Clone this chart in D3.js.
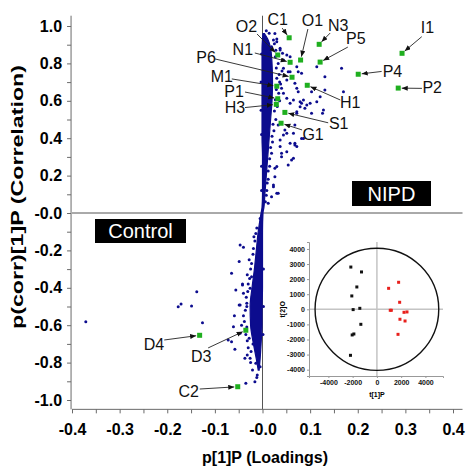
<!DOCTYPE html>
<html>
<head>
<meta charset="utf-8">
<script src="https://cdn.jsdelivr.net/npm/d3@7"></script>
<style>
body { margin: 0; background: #fff; }
#container { width: 466px; height: 473px; }
text { font-family: Arial, "Liberation Sans", sans-serif; }
</style>
</head>
<body>
<div id="container"></div>
<script>

var width = 466, height = 473;

// tick labels (the chart prints "-0.0" at zero)
var xTicks = [-0.4, -0.3, -0.2, -0.1, 0, 0.1, 0.2, 0.3, 0.4];
var xTickLabels = ['-0.4', '-0.3', '-0.2', '-0.1', '-0.0', '0.1', '0.2', '0.3', '0.4'];
var yTicks = [-1.0, -0.8, -0.6, -0.4, -0.2, 0, 0.2, 0.4, 0.6, 0.8, 1.0];
var yTickLabels = ['-1.0', '-0.8', '-0.6', '-0.4', '-0.2', '-0.0', '0.2', '0.4', '0.6', '0.8', '1.0'];

// labelled variables (green squares)
var markerNames = ['C1', 'O1', 'N3', 'P5', 'I1', 'O2', 'N1', 'P6', 'P4', 'P2', 'H1', 'M1', 'P1', 'H3', 'S1', 'G1', 'D4', 'D3', 'C2'];
var markerX = [0.056, 0.080, 0.119, 0.121, 0.293, 0.032, 0.058, 0.062, 0.201, 0.285, 0.094, 0.030, 0.032, 0.029, 0.047, 0.039, -0.132, -0.035, -0.052];
var markerY = [0.937, 0.818, 0.902, 0.807, 0.854, 0.845, 0.806, 0.726, 0.742, 0.668, 0.683, 0.678, 0.611, 0.581, 0.538, 0.480, -0.654, -0.627, -0.929];

// dense core of the S-plot: left / right edge of the band of loadings
var bandY     = [0.96, 0.93, 0.88, 0.80, 0.70, 0.60, 0.50, 0.40, 0.30, 0.20, 0.10, 0.03, 0.00, -0.10, -0.20, -0.30, -0.40, -0.50, -0.60, -0.70, -0.78, -0.84];
var bandLeft  = [0.001, 0.000, -0.001, -0.001, -0.001, -0.001, -0.001, -0.001, 0.000, 0.000, 0.000, -0.001, -0.003, -0.009, -0.013, -0.017, -0.022, -0.026, -0.025, -0.019, -0.013, -0.009];
var bandRight = [0.004, 0.011, 0.017, 0.020, 0.021, 0.020, 0.017, 0.014, 0.011, 0.008, 0.005, 0.003, 0.001, 0.000, 0.000, 0.000, 0.000, -0.001, -0.001, -0.003, -0.005, -0.007];

// individual loadings outside the dense core
var loadingPoints = [
  [0.023, 0.925], [0.019, 0.889], [0.037, 0.881], [0.042, 0.854], [0.051, 0.845], [0.044, 0.818],
  [0.072, 0.782], [0.044, 0.774], [0.054, 0.756], [0.082, 0.747], [0.131, 0.729], [0.166, 0.774],
  [0.051, 0.711], [0.068, 0.694], [0.040, 0.667], [0.075, 0.649], [0.114, 0.595], [0.082, 0.587],
  [0.093, 0.578], [0.089, 0.560], [0.058, 0.587], [0.051, 0.613], [0.128, 0.551], [0.072, 0.542],
  [0.121, 0.622], [0.170, 0.649], [0.131, 0.658], [0.126, 0.533], [0.014, 0.961], [0.030, 0.916],
  [0.037, 0.872], [0.058, 0.836], [0.075, 0.756], [0.058, 0.756], [0.114, 0.782], [0.072, 0.667],
  [0.086, 0.604], [0.079, 0.568], [0.100, 0.587], [0.103, 0.533], [0.065, 0.604], [0.068, 0.471],
  [0.051, 0.426], [0.068, 0.373], [0.037, 0.390], [0.082, 0.399], [0.065, 0.426], [0.044, 0.417],
  [0.058, 0.373], [0.037, 0.355], [0.051, 0.328], [0.065, 0.293], [0.061, 0.283], [0.054, 0.257],
  [0.040, 0.301], [0.030, 0.248], [0.026, 0.194], [0.023, 0.141], [0.019, 0.087], [0.030, 0.105],
  [0.079, 0.595], [0.072, 0.533], [0.033, 0.471], [0.047, 0.444], [0.086, 0.399], [0.068, 0.364],
  [0.040, 0.320], [0.026, 0.239], [0.033, 0.105], [0.012, 0.052], [0.023, 0.150], [0.103, 0.649],
  [0.072, 0.355], [0.030, 0.930], [0.028, 0.870], [0.033, 0.800], [0.035, 0.740], [0.036, 0.700],
  [0.034, 0.640], [0.031, 0.570], [0.028, 0.500], [0.024, 0.440], [0.021, 0.380], [0.019, 0.320],
  [0.015, 0.250], [0.012, 0.180], [0.009, 0.120], [0.006, 0.060], [0.026, 0.960], [0.008, 0.975],
  [0.025, 0.905], [0.027, 0.835], [0.029, 0.775], [0.030, 0.720], [0.029, 0.660], [0.027, 0.605],
  [0.025, 0.545], [0.022, 0.475], [0.020, 0.410], [0.017, 0.350], [0.015, 0.290], [0.012, 0.225],
  [0.010, 0.160], [0.008, 0.095], [0.041, 0.760], [0.038, 0.690], [0.044, 0.640], [0.036, 0.600],
  [-0.002, 0.850], [-0.003, 0.700], [-0.003, 0.550], [-0.002, 0.420], [-0.002, 0.250], [-0.002, 0.120],
  [-0.018, -0.127], [-0.047, -0.171], [-0.040, -0.183], [-0.049, -0.260], [-0.065, -0.322],
  [-0.042, -0.380], [-0.056, -0.412], [-0.040, -0.429], [-0.026, -0.403], [-0.023, -0.341],
  [-0.049, -0.492], [-0.033, -0.483], [-0.138, -0.421], [-0.171, -0.487], [-0.177, -0.501],
  [-0.149, -0.497], [-0.126, -0.587], [-0.047, -0.492], [-0.059, -0.549], [-0.072, -0.679],
  [-0.065, -0.688], [-0.058, -0.729], [-0.037, -0.777], [-0.035, -0.911], [-0.042, -0.385],
  [-0.061, -0.608], [-0.021, -0.840], [-0.011, -0.866], [-0.016, -0.902], [-0.371, -0.581],
  [-0.026, -0.777], [-0.032, -0.759], [-0.047, -0.643], [-0.032, -0.683], [-0.014, -0.804],
  [-0.009, -0.795], [-0.005, -0.822], [-0.005, -0.030], [-0.012, -0.080], [-0.016, -0.150],
  [-0.020, -0.220], [-0.025, -0.300], [-0.030, -0.380], [-0.034, -0.450], [-0.036, -0.520],
  [-0.038, -0.580], [-0.035, -0.650], [-0.030, -0.720], [-0.025, -0.800], [-0.028, -0.250],
  [-0.032, -0.330], [-0.040, -0.550], [-0.044, -0.600], [-0.020, -0.700], [-0.012, -0.880],
  [-0.014, -0.110], [-0.019, -0.190], [-0.023, -0.270], [-0.027, -0.350], [-0.031, -0.420],
  [-0.033, -0.500], [-0.033, -0.610], [-0.028, -0.670], [-0.024, -0.740], [-0.002, -0.100],
  [0.002, -0.300], [0.002, -0.500], [0.001, -0.650]
];

// inset: scores plot t[1]P vs t[2]O
var controlT1 = [-2150, -1270, -1655, -2070, -1960, -1410, -1325, -1900, -2040, -2180];
var controlT2 = [2800, 2475, 1480, 885, -20, 65, -995, -1635, -1700, -3050];
var nipdT1 = [1790, 965, 1875, 1100, 1190, 2235, 2480, 1900, 2320, 1740];
var nipdT2 = [1790, 1390, 465, -65, -65, -200, -175, -660, -775, -1660];
var insetXTicks = [-4000, -2000, 0, 2000, 4000];
var insetYTicks = [-4000, -3000, -2000, -1000, 0, 1000, 2000, 3000, 4000];
var ellipseR = [5100, 4050];

// label placement in pixels relative to each green square: [text dx, text dy, line start dx, line start dy]
var labelLayout = {
  C1: [-11.5, -12.7, -7, -9.7],   O1: [11.8, -34, 7.3, -31],     N3: [19, -13.3, 11, -11.3],
  P5: [35.7, -18, 27.7, -15],     I1: [25.5, -20, 19.7, -16.6],  O2: [-31.2, -23, -20.7, -21],
  N1: [-47.3, -7.3, -35.3, -9.3], P6: [-86, -13.8, -77, -18.3],  P4: [34.2, 2.7, 23.4, -2.8],
  P2: [34, 4.5, 23.7, 0.3],       H1: [43, 22.7, 33, 14.7],      M1: [-55, -4.3, -45, -7.3],
  P1: [-43.7, -1.7, -32.7, -6.7], H3: [-41.3, 8.2, -31.3, 3.2],  S1: [53.8, 16.2, 43.3, 10.4],
  G1: [32, 16.7, 21, 6.7],        D4: [-45.7, 14.7, -35.4, 4.7], D3: [-44.7, 31.7, -37.7, 17.7],
  C2: [-49, 10.3, -38, 2.3]
};

var svg = d3.select('#container')
  .append('svg')
  .attr('width', width)
  .attr('height', height);

var x = d3.scaleLinear().domain([-0.4, 0.4]).range([72, 453]);
var y = d3.scaleLinear().domain([-1, 1]).range([400, 26]);

var axisGrey = '#6a6a6a';
var navy = '#0c0c8e';

svg.append('defs').append('marker')
  .attr('id', 'arrow')
  .attr('markerUnits', 'userSpaceOnUse')
  .attr('markerWidth', 7)
  .attr('markerHeight', 6)
  .attr('refX', 6)
  .attr('refY', 2.5)
  .attr('orient', 'auto')
  .append('path')
  .attr('d', 'M0,0 L6,2.5 L0,5 Z')
  .style('fill', '#111');

// zero lines
svg.append('line')
  .attr('x1', x(0)).attr('x2', x(0))
  .attr('y1', y(1.055)).attr('y2', y(-1.05))
  .style('stroke', '#555').style('stroke-width', 1);
svg.append('line')
  .attr('x1', x(-0.4)).attr('x2', x(0.42))
  .attr('y1', y(0)).attr('y2', y(0))
  .style('stroke', '#555').style('stroke-width', 1);

// axes
var minorX = d3.range(-0.4, 0.4001, 0.05).map(function(d){ return Math.round(d * 100) / 100; });
var xAxis = d3.axisBottom(x)
  .tickValues(minorX)
  .tickSize(4)
  .tickPadding(10)
  .tickFormat(function(d){
    var i = xTicks.findIndex(function(t){ return Math.abs(t - d) < 1e-6; });
    return i >= 0 ? xTickLabels[i] : '';
  });
var gx = svg.append('g')
  .attr('transform', 'translate(0,' + y(-1.05) + ')')
  .call(xAxis);
gx.select('.domain').attr('d', 'M' + x(-0.4) + ',0H' + x(0.42));

var minorY = d3.range(-1, 1.0001, 0.1).map(function(d){ return Math.round(d * 10) / 10; });
var yAxis = d3.axisLeft(y)
  .tickValues(minorY)
  .tickSize(4)
  .tickPadding(5)
  .tickFormat(function(d){
    var i = yTicks.findIndex(function(t){ return Math.abs(t - d) < 1e-6; });
    return i >= 0 ? yTickLabels[i] : '';
  });
var gy = svg.append('g')
  .attr('transform', 'translate(' + x(-0.402) + ',0)')
  .call(yAxis);
gy.select('.domain').attr('d', 'M0,' + y(1.055) + 'V' + y(-1.05));

[gx, gy].forEach(function(g){
  g.selectAll('.domain, .tick line').style('stroke', axisGrey);
  g.selectAll('.tick text')
    .style('font-size', '16px')
    .style('font-weight', 'bold')
    .style('fill', '#000');
});

svg.append('text')
  .attr('x', 265)
  .attr('y', 463)
  .attr('text-anchor', 'middle')
  .style('font-size', '16px')
  .style('font-weight', 'bold')
  .text('p[1]P (Loadings)');

svg.append('text')
  .attr('transform', 'translate(23,' + 197 + ') rotate(-90)')
  .attr('text-anchor', 'middle')
  .attr('textLength', 264)
  .attr('lengthAdjust', 'spacingAndGlyphs')
  .style('font-size', '16px')
  .style('font-weight', 'bold')
  .text('p(corr)[1]P (Correlation)');

// dense band
var band = bandY.map(function(v, i){ return {y: v, l: bandLeft[i], r: bandRight[i]}; });
var area = d3.area()
  .y(function(d){ return y(d.y); })
  .x0(function(d){ return x(d.l); })
  .x1(function(d){ return x(d.r); })
  .curve(d3.curveMonotoneY);
svg.append('path')
  .datum(band)
  .attr('d', area)
  .style('fill', navy)
  .style('stroke', navy)
  .style('stroke-width', 1.2);

svg.selectAll('.loading')
  .data(loadingPoints)
  .enter()
  .append('circle')
  .attr('class', 'loading')
  .attr('cx', function(d){ return x(d[0]); })
  .attr('cy', function(d){ return y(d[1]); })
  .attr('r', 1.5)
  .style('fill', navy);

// group boxes
var boxes = [
  {text: 'Control', cx: 140.5, cy: 231, w: 91, h: 24},
  {text: 'NIPD', cx: 391.5, cy: 193.5, w: 79, h: 25}
];
boxes.forEach(function(b){
  svg.append('rect')
    .attr('x', b.cx - b.w / 2).attr('y', b.cy - b.h / 2)
    .attr('width', b.w).attr('height', b.h)
    .style('fill', '#000');
  svg.append('text')
    .attr('x', b.cx).attr('y', b.cy + 7)
    .attr('text-anchor', 'middle')
    .style('font-size', '20px')
    .style('fill', '#fff')
    .text(b.text);
});

// labelled markers with arrows
var markers = markerNames.map(function(n, i){ return {name: n, x: markerX[i], y: markerY[i]}; });

markers.forEach(function(m){
  var lay = labelLayout[m.name];
  var px = x(m.x), py = y(m.y);
  var sx = px + lay[2], sy = py + lay[3];
  var dx = px - sx, dy = py - sy, len = Math.sqrt(dx * dx + dy * dy);
  svg.append('line')
    .attr('x1', sx).attr('y1', sy)
    .attr('x2', px - dx / len * 3.5).attr('y2', py - dy / len * 3.5)
    .attr('marker-end', 'url(#arrow)')
    .style('stroke', '#222')
    .style('stroke-width', 0.9);
  svg.append('text')
    .attr('x', px + lay[0]).attr('y', py + lay[1])
    .attr('text-anchor', 'middle')
    .style('font-size', '16px')
    .style('fill', '#111')
    .text(m.name);
});

svg.selectAll('.marker')
  .data(markers)
  .enter()
  .append('rect')
  .attr('class', 'marker')
  .attr('x', function(d){ return x(d.x) - 2.5; })
  .attr('y', function(d){ return y(d.y) - 2.5; })
  .attr('width', 5)
  .attr('height', 5)
  .style('fill', '#1faf1f');

// inset scores plot
var ix = d3.scaleLinear().domain([-5600, 5450]).range([309, 443]);
var iy = d3.scaleLinear().domain([-4420, 4460]).range([376, 242]);
var inset = svg.append('g').attr('class', 'inset');

inset.append('line')
  .attr('x1', ix(0)).attr('x2', ix(0)).attr('y1', iy(4460)).attr('y2', iy(-4420))
  .style('stroke', '#c4c4c4').style('stroke-width', 1.5);
inset.append('line')
  .attr('x1', ix(-5600)).attr('x2', ix(5450)).attr('y1', iy(0)).attr('y2', iy(0))
  .style('stroke', '#c4c4c4').style('stroke-width', 1.5);

var ixAxis = inset.append('g')
  .attr('transform', 'translate(0,' + iy(-4420) + ')')
  .call(d3.axisBottom(ix).tickValues(insetXTicks).tickSize(2).tickPadding(2).tickFormat(d3.format('d')));
var iyAxis = inset.append('g')
  .attr('transform', 'translate(' + ix(-5600) + ',0)')
  .call(d3.axisLeft(iy).tickValues(insetYTicks).tickSize(2).tickPadding(2).tickFormat(d3.format('d')));
[ixAxis, iyAxis].forEach(function(g){
  g.selectAll('.domain, .tick line').style('stroke', '#999');
  g.selectAll('.tick text')
    .text(function(d){ return String(d); })
    .style('font-size', '7px')
    .style('font-weight', 'bold')
    .style('fill', '#111');
});

inset.append('ellipse')
  .attr('cx', ix(0)).attr('cy', iy(0))
  .attr('rx', ix(ellipseR[0]) - ix(0))
  .attr('ry', iy(0) - iy(ellipseR[1]))
  .style('fill', 'none')
  .style('stroke', '#111')
  .style('stroke-width', 1.4);

inset.selectAll('.ctrl')
  .data(controlT1)
  .enter()
  .append('rect')
  .attr('x', function(d){ return ix(d) - 1.5; })
  .attr('y', function(d, i){ return iy(controlT2[i]) - 1.5; })
  .attr('width', 3).attr('height', 3)
  .style('fill', '#111');

inset.selectAll('.nipd')
  .data(nipdT1)
  .enter()
  .append('rect')
  .attr('x', function(d){ return ix(d) - 1.5; })
  .attr('y', function(d, i){ return iy(nipdT2[i]) - 1.5; })
  .attr('width', 3).attr('height', 3)
  .style('fill', '#e8201c');

inset.append('text')
  .attr('x', ix(0)).attr('y', 397)
  .attr('text-anchor', 'middle')
  .style('font-size', '7px').style('font-weight', 'bold')
  .text('t[1]P');
inset.append('text')
  .attr('transform', 'translate(285,' + iy(0) + ') rotate(-90)')
  .attr('text-anchor', 'middle')
  .style('font-size', '7px').style('font-weight', 'bold')
  .text('t[2]O');

</script>
</body>
</html>
